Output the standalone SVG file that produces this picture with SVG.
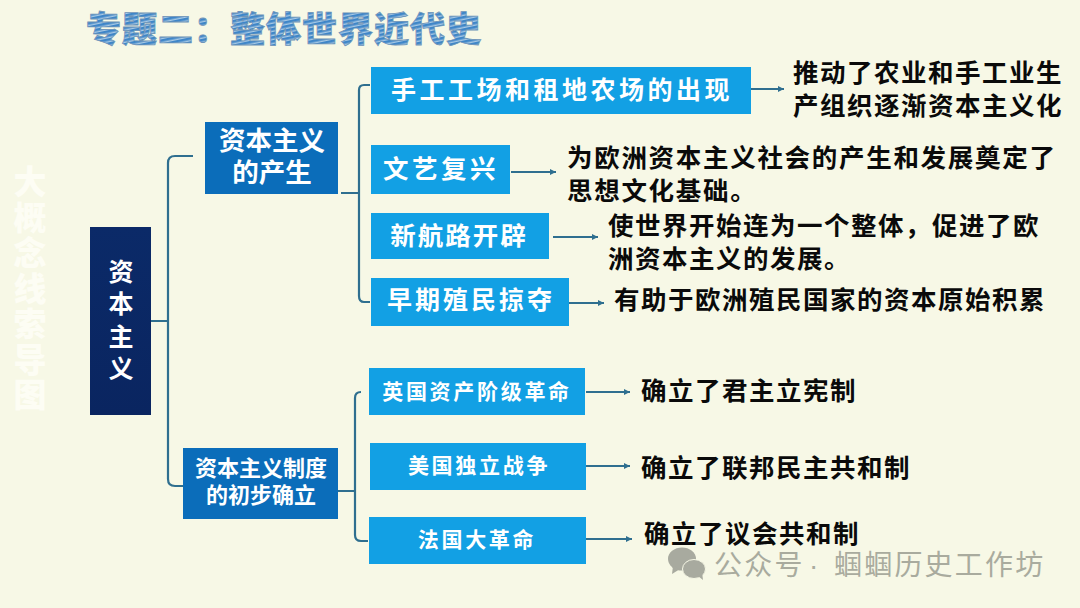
<svg xmlns="http://www.w3.org/2000/svg" width="1080" height="608" viewBox="0 0 1080 608">
<style>
text{font-family:"Noto Sans CJK SC","Liberation Sans",sans-serif;}
.w{fill:#fff;font-weight:700;text-anchor:middle;}
.k{fill:#0a0a0a;font-weight:700;font-size:25.5px;letter-spacing:1.5px;}
.c{fill:none;stroke:#2f6f8f;stroke-width:2.2;}
.a{fill:none;stroke:#2f6f8f;stroke-width:2;marker-end:url(#ah);}
.lb{fill:#12a0e4;}
.mb{fill:#0b6dba;}
</style>
<defs>
<marker id="ah" markerWidth="7" markerHeight="7" refX="6" refY="3" orient="auto" markerUnits="userSpaceOnUse"><path d="M0,0L6,3L0,6z" fill="#2f6f8f"/></marker>
<linearGradient id="nv" x1="0" y1="0" x2="0" y2="1"><stop offset="0" stop-color="#0b2a68"/><stop offset="1" stop-color="#0a2560"/></linearGradient>
<pattern id="hatch" width="5" height="4" patternUnits="userSpaceOnUse" patternTransform="rotate(-12)"><rect width="5" height="4" fill="#3f86c8"/><rect y="2.6" width="5" height="1.4" fill="#a9c9e4"/></pattern>
</defs>
<rect width="1080" height="608" fill="#f7f8e6"/>
<g id="title"><text x="284" y="42" font-size="35" font-weight="900" text-anchor="middle" fill="url(#hatch)" stroke="#6f94b8" stroke-width=".8" letter-spacing="1">专题二&#xFF1A;整体世界近代史</text></g>
<g id="side"><text x="30" y="165" font-size="33" font-weight="900" fill="#fdfdf4" writing-mode="vertical-rl" letter-spacing="2.5">大概念线索导图</text></g>
<g id="connectors">
<path class="c" d="M151,321H168M193,156H175Q168,156 168,163V479Q168,486 175,486H183"/>
<path class="c" d="M341,193H359M370,85H364Q359,85 359,90V296Q359,302 364,302H370"/>
<path class="c" d="M338,491H355M361,392Q355,392 355,398V535Q355,541 361,541H368"/>
<path class="a" d="M751,89H784"/>
<path class="a" d="M511,172H556"/>
<path class="a" d="M553,237H598"/>
<path class="a" d="M559,303H604"/>
<path class="a" d="M586,392H630"/>
<path class="a" d="M586,466H630"/>
<path class="a" d="M586,539H632"/>
</g>
<g id="n-root"><rect x="90" y="227" width="61" height="188" fill="url(#nv)"/><text class="w" font-size="25"><tspan x="121" y="281">资</tspan><tspan x="121" y="313">本</tspan><tspan x="121" y="346">主</tspan><tspan x="121" y="378">义</tspan></text></g>
<g id="n-a"><rect class="mb" x="205" y="122" width="133" height="72"/><text class="w" font-size="26.5"><tspan x="272" y="150">资本主义</tspan><tspan x="272" y="182">的产生</tspan></text></g>
<g id="n-b"><rect class="mb" x="183" y="448" width="155" height="71"/><text class="w" font-size="22"><tspan x="261" y="476">资本主义制度</tspan><tspan x="261" y="503">的初步确立</tspan></text></g>
<g id="n1"><rect class="lb" x="371" y="67" width="380" height="47"/><text class="w" x="562" y="99" font-size="25" letter-spacing="3.5">手工工场和租地农场的出现</text></g>
<g id="n2"><rect class="lb" x="371" y="145" width="139" height="49"/><text class="w" x="441" y="178" font-size="25.5" letter-spacing="3.5">文艺复兴</text></g>
<g id="n3"><rect class="lb" x="371" y="213" width="178" height="46"/><text class="w" x="459" y="245" font-size="25.5" letter-spacing="2">新航路开辟</text></g>
<g id="n4"><rect class="lb" x="371" y="278" width="198" height="48"/><text class="w" x="471" y="309" font-size="25" letter-spacing="3">早期殖民掠夺</text></g>
<g id="n5"><rect class="lb" x="369" y="368" width="216" height="47"/><text class="w" x="477" y="399" font-size="21" letter-spacing="2.7">英国资产阶级革命</text></g>
<g id="n6"><rect class="lb" x="370" y="443" width="216" height="47"/><text class="w" x="479" y="473" font-size="21" letter-spacing="2.7">美国独立战争</text></g>
<g id="n7"><rect class="lb" x="369" y="517" width="217" height="47"/><text class="w" x="477" y="547" font-size="21" letter-spacing="2.7">法国大革命</text></g>
<g id="r1"><text class="k"><tspan x="793" y="82">推动了农业和手工业生</tspan><tspan x="793" y="115">产组织逐渐资本主义化</tspan></text></g>
<g id="r2"><text class="k" style="letter-spacing:1.7px"><tspan x="567" y="167">为欧洲资本主义社会的产生和发展奠定了</tspan><tspan x="567" y="200">思想文化基础。</tspan></text></g>
<g id="r3"><text class="k"><tspan x="608" y="235">使世界开始连为一个整体&#xFF0C;促进了欧</tspan><tspan x="608" y="268">洲资本主义的发展。</tspan></text></g>
<g id="r4"><text class="k" x="614" y="309">有助于欧洲殖民国家的资本原始积累</text></g>
<g id="r5"><text class="k" x="641" y="400">确立了君主立宪制</text></g>
<g id="r6"><text class="k" x="641" y="477">确立了联邦民主共和制</text></g>
<g id="r7"><text class="k" x="644" y="543">确立了议会共和制</text></g>
<g id="wm">
<ellipse cx="682" cy="559" rx="14" ry="11.5" fill="#a8aa9f"/><path d="M673,566L672,574L680,569z" fill="#a8aa9f"/>
<ellipse cx="694" cy="569" rx="11.5" ry="9.5" fill="#a8aa9f" stroke="#f7f8e6" stroke-width="1"/><path d="M698,576L703,580L702,572z" fill="#a8aa9f"/>
<text y="575" font-size="28" font-weight="400" fill="#a9ab9e" letter-spacing="2.2"><tspan x="714">公众号</tspan><tspan x="809" style="font-family:'Liberation Sans',sans-serif">·</tspan><tspan x="834">蝈蝈历史工作坊</tspan></text>
</g>
</svg>
